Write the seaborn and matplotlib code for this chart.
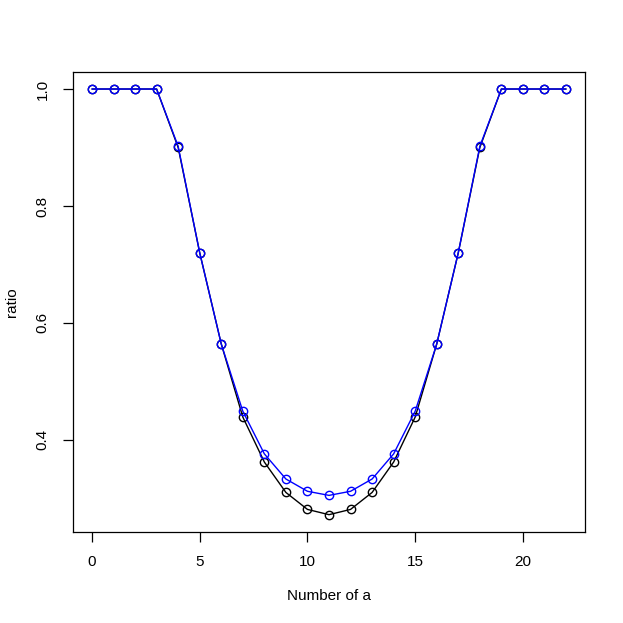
import numpy as np
import pandas as pd
import seaborn as sns
import matplotlib
matplotlib.use("Agg")
import matplotlib.pyplot as plt

# values (symmetric around a = 11)
n_a = list(range(23))
ratio_black = [1.0, 1.0, 1.0, 1.0, 0.900, 0.720, 0.564, 0.439, 0.362, 0.310, 0.281, 0.272,
               0.281, 0.310, 0.362, 0.439, 0.564, 0.720, 0.900, 1.0, 1.0, 1.0, 1.0]
ratio_blue = [1.0, 1.0, 1.0, 1.0, 0.902, 0.720, 0.564, 0.449, 0.376, 0.333, 0.312, 0.305,
              0.312, 0.333, 0.376, 0.449, 0.564, 0.720, 0.902, 1.0, 1.0, 1.0, 1.0]

df = pd.DataFrame({"a": n_a, "black": ratio_black, "blue": ratio_blue})

sns.set_style("white")
plt.rcParams["font.family"] = ["Liberation Sans", "DejaVu Sans"]
plt.rcParams["font.size"] = 11
plt.rcParams["text.color"] = "black"
plt.rcParams["axes.labelcolor"] = "black"
plt.rcParams["xtick.color"] = "black"
plt.rcParams["ytick.color"] = "black"

fig = plt.figure(figsize=(6.23, 6.23), dpi=100)
ax = fig.add_axes([73 / 623, (623 - 531.7) / 623, (585 - 73) / 623, (531.7 - 72) / 623])

for col, c in [("black", "black"), ("blue", "blue")]:
    sns.lineplot(data=df, x="a", y=col, ax=ax, color=c, lw=1.0, marker="o",
                 markersize=6, markerfacecolor="none", markeredgecolor=c,
                 markeredgewidth=1.0)

ymin, ymax = min(ratio_black + ratio_blue), max(ratio_black + ratio_blue)
pad = 0.04 * (ymax - ymin)
ax.set_ylim(ymin - pad, ymax + pad)
ax.set_xlim(-0.04 * 22, 22 * 1.04)

ax.set_xticks([0, 5, 10, 15, 20])
ax.set_yticks([0.4, 0.6, 0.8, 1.0])
ax.set_yticklabels(["0.4", "0.6", "0.8", "1.0"], rotation=90, va="center")
ax.tick_params(axis="both", direction="out", length=7, width=0.9, colors="black",
               labelsize=11, pad=10, left=True, bottom=True)
ax.set_xlabel("Number of a", fontsize=11, labelpad=14)
ax.set_ylabel("ratio", fontsize=11, labelpad=12)
for s in ax.spines.values():
    s.set_color("black")
    s.set_linewidth(0.9)

fig.savefig("out.png", dpi=100)
